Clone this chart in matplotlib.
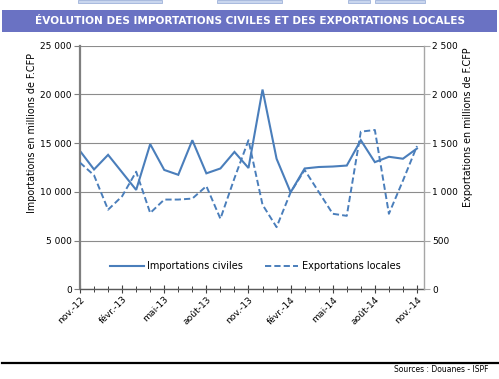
import matplotlib
matplotlib.use("Agg")
import matplotlib.pyplot as plt
from matplotlib.patches import Rectangle
from matplotlib.lines import Line2D
from matplotlib.ticker import FuncFormatter, MultipleLocator

plt.rcParams['font.family'] = ['DejaVu Sans']

months = ["nov.-12", "déc.-12", "janv.-13", "févr.-13", "mars-13", "avr.-13", "mai-13",
          "juin-13", "juil.-13", "août-13", "sept.-13", "oct.-13", "nov.-13", "déc.-13",
          "janv.-14", "févr.-14", "mars-14", "avr.-14", "mai-14", "juin-14", "juil.-14",
          "août-14", "sept.-14", "oct.-14", "nov.-14"]

importations = [14200, 12300, 13800, 12000, 10200, 14900, 12250, 11750, 15300, 11900,
                12400, 14100, 12450, 20500, 13400, 9950, 12400, 12550, 12600, 12700,
                15300, 13050, 13600, 13400, 14450]

exportations = [1300, 1170, 817, 955, 1207, 783, 921, 921, 931, 1059,
                724, 1140, 1530, 868, 638, 995, 1225, 1000, 775, 754,
                1618, 1635, 775, 1115, 1470]

title = "ÉVOLUTION DES IMPORTATIONS CIVILES ET DES EXPORTATIONS LOCALES"
label_imp = "Importations civiles"
label_exp = "Exportations locales"
ylabel_left = "Importations en millions de F.CFP"
ylabel_right = "Exportations en millions de F.CFP"
source = "Sources : Douanes - ISPF"

W, H = 499, 379
fig = plt.figure(figsize=(W / 100, H / 100), dpi=100)

def fx(px):
    return px / W

def fy(py):
    return 1 - py / H

# top partial boxes (fragments of the page above)
for x0, x1 in [(78, 162), (217, 282), (348, 370), (375, 425)]:
    fig.patches.append(Rectangle((fx(x0), fy(3)), fx(x1 - x0), 3 / H,
                                 transform=fig.transFigure, facecolor="#C9D6EE",
                                 edgecolor="#9FB3DA", linewidth=0.6))

# title bar
bar_color = "#6A72C3"
fig.patches.append(Rectangle((fx(2), fy(31.5)), fx(495), 21.5 / H,
                             transform=fig.transFigure, facecolor=bar_color,
                             edgecolor="none"))
fig.text(fx(250), fy(20.5), title, color="white", fontsize=7.6, fontweight="bold",
         ha="center", va="center")

# axes
left, right = 80, 424
top, bottom = 45.7, 289.3
ax = fig.add_axes([fx(left), fy(bottom), fx(right - left), (bottom - top) / H])
ax2 = ax.twinx()

color = "#4A7EBB"
x = list(range(len(months)))
ax.plot(x, importations, color=color, linewidth=1.5, solid_joinstyle="miter")
ax2.plot(x, exportations, color=color, linewidth=1.4, linestyle=(0, (3.2, 1.6)))

ax.set_xlim(0, 24.5)
ax.set_ylim(0, 25000)
ax2.set_ylim(0, 2500)

ax.yaxis.set_major_locator(MultipleLocator(5000))
ax2.yaxis.set_major_locator(MultipleLocator(500))
fmt = FuncFormatter(lambda v, p: f"{int(v):,}".replace(",", " "))
ax.yaxis.set_major_formatter(fmt)
ax2.yaxis.set_major_formatter(fmt)

ax.set_xticks(x[::3])
ax.set_xticklabels(months[::3], rotation=45, ha="right", rotation_mode="anchor",
                   fontsize=6.6)
ax.set_xticks(x, minor=True)

ax.grid(axis="y", color="#8C8C8C", linewidth=0.8)
ax.set_axisbelow(True)

for a in (ax, ax2):
    for s in a.spines.values():
        s.set_visible(False)
ax.spines["left"].set_visible(True)
ax.spines["left"].set_color("#7F7F7F")
ax.spines["left"].set_linewidth(1.6)
ax.spines["bottom"].set_visible(True)
ax.spines["bottom"].set_color("#595959")
ax.spines["bottom"].set_linewidth(1.0)
ax2.spines["right"].set_visible(True)
ax2.spines["right"].set_color("#A6A6A6")
ax2.spines["right"].set_linewidth(1.0)

ax.tick_params(axis="y", labelsize=6.5, length=4, width=0.8, color="#7F7F7F", pad=2)
ax2.tick_params(axis="y", labelsize=6.5, length=4, width=0.8, color="#A6A6A6", pad=2)
ax.tick_params(axis="x", which="major", direction="inout", length=6, width=0.8,
               color="#404040", pad=1)
ax.tick_params(axis="x", which="minor", direction="inout", length=4, width=0.7,
               color="#404040")

fig.text(fx(32), fy(133), ylabel_left, rotation=90, ha="center", va="center",
         fontsize=6.9)
fig.text(fx(468), fy(127), ylabel_right, rotation=90, ha="center", va="center",
         fontsize=6.9)

handles = [Line2D([], [], color=color, linewidth=1.5),
           Line2D([], [], color=color, linewidth=1.4, linestyle=(0, (3.2, 1.6)))]
ax.legend(handles, [label_imp, label_exp], ncol=2, frameon=False, fontsize=7,
          loc="center", bbox_to_anchor=(0.51, 0.096), handlelength=3.4,
          handletextpad=0.4, columnspacing=2.2)

# footer
fig.lines.append(Line2D([fx(2), 1.0], [fy(362.7), fy(362.7)], transform=fig.transFigure,
                        color="black", linewidth=1.6))
fig.text(fx(489), fy(369.5), source, ha="right", va="center", fontsize=5.5)

fig.savefig("out.png", dpi=100)
